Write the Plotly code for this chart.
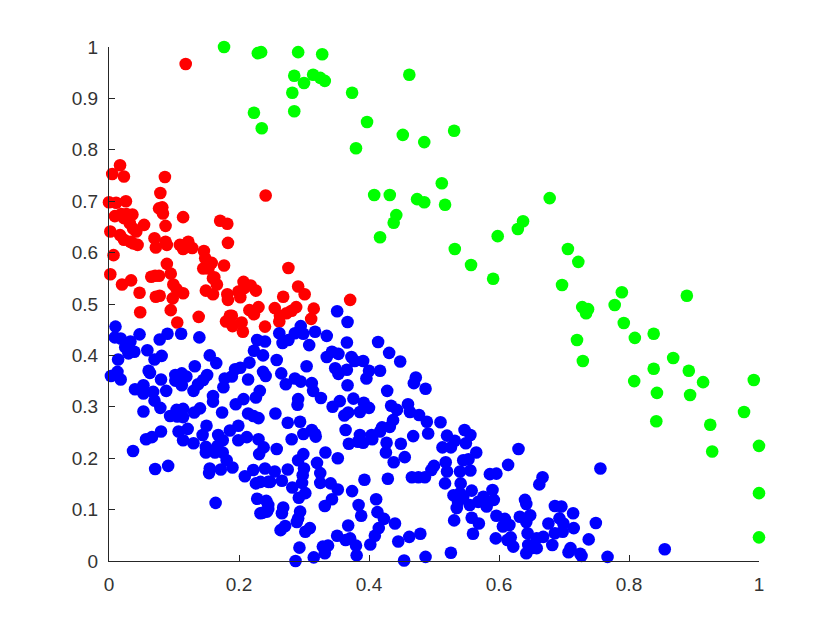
import plotly.graph_objects as go

blue_points = [
(.010,.456),(.009,.435),(.018,.433),(.047,.441),(.078,.431),(.090,.442),(.111,.442),(.139,.435),(.033,.427),(.025,.416),
(.031,.414),(.030,.404),(.039,.407),(.059,.410),(.014,.392),(.070,.392),(.081,.399),(.155,.400),(.165,.385),(.132,.379),
(.216,.386),(.228,.430),(.240,.427),(.223,.409),(.237,.400),(.202,.376),(.194,.373),(.237,.368),(.241,.360),(.061,.370),
(.063,.366),(.003,.360),(.013,.368),(.018,.353),(.080,.353),(.102,.362),(.112,.365),(.119,.359),(.102,.351),(.112,.342),
(.107,.351),(.151,.362),(.145,.352),(.137,.344),(.130,.331),(.178,.355),(.189,.359),(.176,.338),(.214,.353),(.232,.331),
(.226,.318),(.053,.342),(.040,.334),(.053,.326),(.068,.329),(.088,.331),(.070,.312),(.079,.298),(.053,.291),(.160,.321),
(.160,.310),(.207,.315),(.195,.305),(.174,.289),(.140,.297),(.131,.289),(.114,.296),(.104,.294),(.094,.282),(.105,.281),
(.114,.280),(.214,.287),(.222,.282),(.230,.278),(.150,.263),(.121,.257),(.080,.252),(.107,.252),(.199,.263),(.186,.254),
(.168,.245),(.144,.245),(.057,.237),(.066,.241),(.114,.235),(.130,.229),(.175,.235),(.199,.235),(.212,.241),(.230,.237),
(.238,.221),(.231,.208),(.037,.214),(.149,.222),(.149,.211),(.163,.211),(.167,.224),(.175,.211),(.181,.196),(.190,.182),
(.155,.180),(.154,.171),(.172,.178),(.071,.179),(.091,.185),(.222,.177),(.209,.165),(.240,.180),(.226,.151),(.233,.154),
(.245,.154),(.228,.121),(.242,.117),(.233,.093),(.243,.096),(.245,.109),(.164,.113),
(.351,.486),(.367,.465),(.262,.443),(.295,.457),(.317,.446),(.286,.443),(.299,.442),(.276,.430),(.267,.424),(.308,.420),
(.335,.438),(.366,.425),(.414,.426),(.431,.405),(.448,.388),(.258,.391),(.304,.379),(.335,.397),(.343,.407),(.353,.403),
(.373,.397),(.378,.389),(.391,.389),(.348,.375),(.353,.364),(.366,.372),(.400,.370),(.396,.355),(.417,.370),(.367,.342),
(.265,.365),(.286,.355),(.272,.344),(.295,.349),(.312,.346),(.314,.331),(.326,.317),(.291,.315),(.290,.304),(.472,.357),
(.469,.346),(.487,.335),(.428,.331),(.376,.316),(.355,.311),(.344,.300),(.392,.308),(.400,.298),(.386,.290),(.368,.289),
(.362,.283),(.434,.302),(.443,.294),(.460,.305),(.463,.290),(.477,.284),(.489,.271),(.437,.274),(.432,.261),(.420,.260),
(.417,.252),(.256,.287),(.275,.269),(.294,.271),(.312,.255),(.299,.247),(.317,.247),(.281,.237),(.364,.255),(.468,.243),
(.404,.245),(.386,.245),(.318,.242),(.369,.228),(.383,.232),(.391,.230),(.405,.237),(.427,.230),(.449,.228),(.426,.211),
(.438,.192),(.455,.202),(.491,.248),(.258,.218),(.299,.208),(.291,.196),(.333,.211),(.352,.200),(.320,.191),(.255,.174),
(.275,.178),(.300,.180),(.298,.167),(.325,.171),(.266,.156),(.248,.154),(.297,.152),(.325,.152),(.341,.151),(.352,.139),
(.393,.158),(.429,.160),(.466,.163),(.476,.163),(.486,.163),(.282,.143),(.302,.132),(.292,.123),(.374,.136),(.411,.120),
(.343,.120),(.332,.107),(.384,.109),(.413,.095),(.388,.088),(.423,.082),(.440,.073),(.415,.064),(.409,.049),(.402,.032),
(.368,.069),(.351,.049),(.364,.041),(.371,.044),(.380,.030),(.381,.011),(.337,.030),(.329,.028),(.332,.015),(.293,.026),
(.287,.000),(.315,.007),(.445,.038),(.462,.047),(.479,.053),(.454,.001),(.487,.008),(.268,.104),(.266,.093),(.294,.096),
(.291,.083),(.289,.076),(.309,.064),(.302,.057),(.271,.068),(.264,.060),(.245,.101),(.236,.094),
(.510,.270),(.547,.255),(.556,.245),(.520,.244),(.532,.234),(.549,.229),(.513,.221),(.526,.221),(.565,.211),(.630,.218),
(.545,.196),(.553,.198),(.518,.192),(.614,.187),(.500,.185),(.496,.177),(.520,.174),(.540,.174),(.556,.176),(.586,.169),
(.596,.170),(.667,.163),(.662,.149),(.517,.151),(.541,.151),(.558,.137),(.590,.138),(.530,.128),(.540,.132),(.545,.125),
(.576,.125),(.592,.119),(.537,.115),(.555,.109),(.568,.115),(.581,.106),(.535,.103),(.531,.079),(.558,.084),(.569,.073),
(.640,.119),(.642,.111),(.596,.088),(.609,.082),(.616,.070),(.606,.067),(.632,.086),(.648,.089),(.642,.076),(.686,.107),
(.696,.106),(.714,.093),(.693,.083),(.676,.073),(.699,.073),(.715,.064),(.644,.054),(.658,.044),(.668,.047),(.686,.054),
(.698,.057),(.560,.053),(.595,.044),(.618,.046),(.613,.041),(.622,.028),(.645,.031),(.658,.025),(.642,.015),(.650,.025),
(.682,.031),(.710,.025),(.707,.017),(.725,.014),(.727,.010),(.738,.042),(.526,.016),(.756,.180),(.749,.074),(.767,.008),
(.855,.023),
]

red_points = [
(.118,.967),(.017,.770),(.005,.753),(.023,.748),(.086,.747),(.079,.716),(.000,.698),(.011,.697),(.026,.700),(.077,.686),
(.082,.688),(.083,.676),(.009,.671),(.019,.675),(.027,.675),(.036,.674),(.023,.667),(.032,.657),(.054,.654),(.114,.669),
(.087,.652),(.037,.647),(.042,.641),(.002,.641),(.017,.634),(.023,.625),(.033,.621),(.044,.615),(.037,.618),(.070,.628),
(.072,.610),(.087,.621),(.089,.615),(.109,.615),(.114,.607),(.122,.621),(.128,.609),(.117,.615),(.171,.662),(.182,.656),
(.183,.619),(.146,.603),(.148,.589),(.158,.580),(.145,.569),(.153,.569),(.177,.575),(.007,.595),(.002,.558),(.089,.578),
(.095,.559),(.065,.553),(.071,.555),(.077,.555),(.034,.546),(.020,.538),(.047,.522),(.099,.538),(.104,.529),(.114,.521),
(.072,.514),(.078,.516),(.098,.511),(.048,.484),(.095,.488),(.105,.464),(.138,.475),(.162,.552),(.166,.538),(.149,.526),
(.160,.519),(.182,.519),(.183,.508),(.180,.466),(.186,.477),(.276,.570),(.160,.550),(.207,.543),(.199,.524),(.202,.513),
(.208,.531),(.218,.536),(.226,.526),(.291,.534),(.301,.519),(.268,.514),(.371,.508),(.315,.491),(.311,.471),(.230,.494),
(.216,.488),(.223,.480),(.255,.492),(.288,.494),(.281,.487),(.273,.482),(.263,.477),(.262,.466),(.189,.477),(.190,.457),
(.204,.464),(.206,.446),(.240,.456),(.241,.711),
]

green_points = [
(.177,1.0),(.229,.988),(.234,.990),(.291,.990),(.328,.986),(.285,.944),(.314,.946),(.300,.930),(.325,.940),(.332,.934),
(.282,.911),(.462,.946),(.374,.911),(.285,.875),(.223,.872),(.235,.842),(.397,.854),(.452,.829),(.531,.837),(.485,.815),
(.380,.803),(.512,.735),(.678,.706),(.408,.712),(.432,.712),(.474,.704),(.485,.698),(.517,.693),(.442,.673),(.438,.658),
(.417,.630),(.637,.661),(.629,.646),(.598,.632),(.532,.607),(.557,.576),(.706,.607),(.722,.582),(.591,.549),(.697,.537),
(.728,.494),(.737,.490),(.734,.482),(.789,.523),(.778,.498),(.889,.516),(.792,.463),(.809,.434),(.838,.442),(.720,.430),
(.729,.389),(.868,.395),(.838,.374),(.892,.370),(.808,.350),(.914,.348),(.992,.352),(.843,.327),(.894,.323),(.977,.290),
(.925,.265),(.842,.272),(.928,.213),(1.0,.224),(1.0,.132),(1.0,.046),
]

x_ticks = [0, 0.2, 0.4, 0.6, 0.8, 1]
x_labels = ["0", "0.2", "0.4", "0.6", "0.8", "1"]
y_ticks = [0, 0.1, 0.2, 0.3, 0.4, 0.5, 0.6, 0.7, 0.8, 0.9, 1]
y_labels = ["0", "0.1", "0.2", "0.3", "0.4", "0.5", "0.6", "0.7", "0.8", "0.9", "1"]

fig = go.Figure()
for pts, col in ((red_points, "#ff0000"), (green_points, "#00ff00"), (blue_points, "#0000ff")):
    fig.add_trace(go.Scatter(
        x=[p[0] for p in pts], y=[p[1] for p in pts], mode="markers",
        marker=dict(color=col, size=12.6, line=dict(width=0)),
        cliponaxis=False, showlegend=False, hoverinfo="skip"))

axis = dict(range=[0, 1], showgrid=False, zeroline=False, showline=True, linecolor="#262626",
            linewidth=1, ticks="inside", ticklen=6, tickwidth=1, tickcolor="#262626",
            tickfont=dict(family="Liberation Sans", size=19, color="#333333"))
fig.update_layout(
    width=824, height=614, paper_bgcolor="white", plot_bgcolor="white",
    margin=dict(l=101, r=73, t=39, b=61, autoexpand=False),
    xaxis=dict(axis, tickvals=x_ticks, ticktext=x_labels, ticklabelstandoff=6),
    yaxis=dict(axis, tickvals=y_ticks, ticktext=y_labels, ticklabelstandoff=6),
)
fig.write_html("out.html")
